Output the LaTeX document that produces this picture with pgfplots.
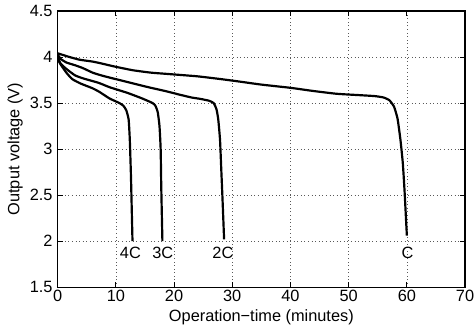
\documentclass[border=0pt]{standalone}
\usepackage{fontspec}
\setmainfont{Liberation Sans}
\usepackage{pgfplots}
\pgfplotsset{compat=1.18}
\begin{document}
\begin{tikzpicture}
\begin{axis}[
  at={(0,0)}, anchor=south west,
  scale only axis, width=410bp, height=278bp,
  xmin=0, xmax=70, ymin=1.5, ymax=4.5,
  xtick={0,10,...,70}, ytick={1.5,2,2.5,3,3.5,4,4.5},
  /pgf/number format/assume math mode=true,
  tick align=inside, major tick length=5bp,
  tick style={black, line width=0.8bp},
  axis line style={line width=1.3bp},
  grid=major,
  grid style={black!65, line width=0.6bp, dash pattern=on 0.6bp off 3bp},
  every tick label/.append style={font=\fontsize{16.5}{19}\selectfont},
  xticklabel style={inner sep=0pt, anchor=north, yshift=-3bp},
  yticklabel style={inner sep=0pt, anchor=east, xshift=-5bp},
  xlabel={Operation−time (minutes)},
  ylabel={Output voltage (V)},
  label style={font=\fontsize{16.5}{19}\selectfont, inner sep=0pt},
  xlabel style={at={(axis description cs:0.5,-0.0791)}, anchor=north},
  ylabel style={at={(axis description cs:-0.0854,0.5)}, anchor=south, rotate=0},
]
\addplot[black, line width=2.2bp, smooth, tension=0.3] coordinates {
(0,4.04) (1,4.02) (2,4.0) (3.8,3.97) (6,3.95) (7.5,3.93) (9.5,3.90) (11,3.88)
(13,3.855) (16,3.83) (19,3.815) (24,3.79) (28,3.76) (31,3.735) (35,3.70)
(40,3.665) (44,3.63) (48,3.60) (52,3.585) (54.5,3.575) (56,3.56) (57,3.53)
(57.8,3.46) (58.4,3.33) (58.9,3.10) (59.3,2.85) (59.6,2.55) (60,2.06)};
\addplot[black, line width=2.2bp, smooth, tension=0.3] coordinates {
(0,4.03) (0.5,3.98) (1.5,3.94) (3,3.91) (4.3,3.88) (6,3.83) (7.5,3.80)
(9,3.775) (12.5,3.72) (15.7,3.67) (18.5,3.63) (21,3.59) (23,3.56) (24.5,3.545)
(26,3.525) (26.8,3.50) (27.3,3.43) (27.6,3.32) (27.9,3.1) (28.1,2.8) (28.3,2.5) (28.6,2.02)};
\addplot[black, line width=2.2bp, smooth, tension=0.3] coordinates {
(0,4.0) (0.5,3.93) (1.5,3.87) (3,3.80) (4.5,3.765) (7,3.72) (9,3.67) (12,3.61)
(14.5,3.55) (16.3,3.50) (16.8,3.47) (17.2,3.40) (17.5,3.25) (17.7,3.0) (17.8,2.6) (18.0,2.0)};
\addplot[black, line width=2.2bp, smooth, tension=0.3] coordinates {
(0,3.99) (0.4,3.93) (1.5,3.83) (2.5,3.76) (4,3.71) (6,3.66) (7.2,3.62) (8.9,3.55)
(10.6,3.50) (11.3,3.47) (11.8,3.42) (12.2,3.32) (12.4,3.1) (12.6,2.7) (12.86,2.0)};
\node[font=\fontsize{16.5}{19}\selectfont, inner sep=0pt] at (axis cs:12.5,1.868) {4C};
\node[font=\fontsize{16.5}{19}\selectfont, inner sep=0pt] at (axis cs:18.07,1.868) {3C};
\node[font=\fontsize{16.5}{19}\selectfont, inner sep=0pt] at (axis cs:28.4,1.868) {2C};
\node[font=\fontsize{16.5}{19}\selectfont, inner sep=0pt] at (axis cs:60.1,1.868) {C};
\end{axis}
\pgfresetboundingbox
\path[use as bounding box] (-58bp,-43bp) rectangle (420bp,289bp);
\end{tikzpicture}
\end{document}
